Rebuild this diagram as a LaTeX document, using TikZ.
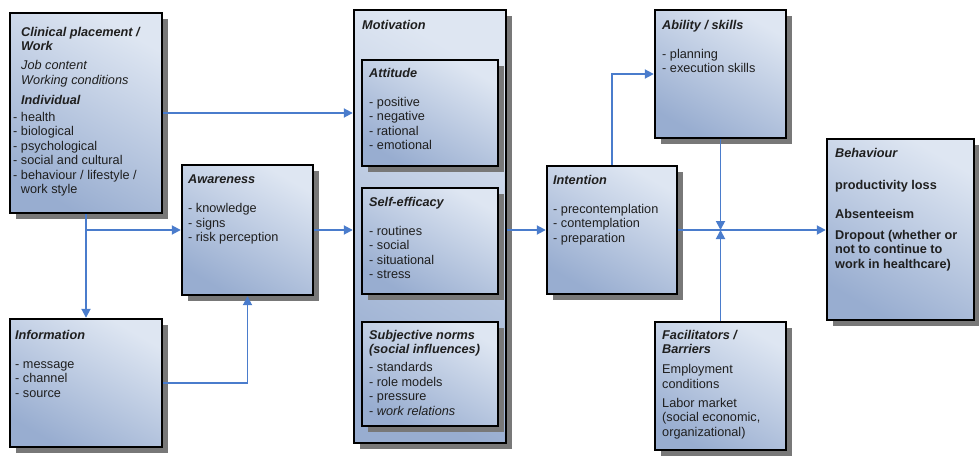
\documentclass[tikz,border=0pt]{standalone}
\usepackage{fontspec}
\setmainfont{Liberation Sans}
\usetikzlibrary{arrows.meta,shadows}
\definecolor{boxtop}{RGB}{222,230,242}
\definecolor{boxbot}{RGB}{152,173,208}
\definecolor{conncol}{RGB}{74,124,204}
\definecolor{shadowcol}{RGB}{120,120,120}
\newcommand{\hd}[1]{\textbf{\textit{#1}}}
\begin{document}
\begin{tikzpicture}[x=1pt,y=-1pt,
 box/.style={draw=black, line width=2.4pt, top color=boxtop, bottom color=boxbot, shading angle=-30, inner sep=0,
   drop shadow={shadow xshift=6pt, shadow yshift=-6pt, opacity=1, fill=shadowcol}},
 txt/.style={anchor=north west, inner sep=0, align=left, font=\fontsize{12.7}{14.5}\selectfont, text=black!88},
 conn/.style={draw=conncol, line width=1.8pt, -{Triangle[length=9pt,width=9pt]}},
 ]
\useasboundingbox (0,0) rectangle (979,457);

% boxes
\node[box, minimum width=152pt, minimum height=200pt] (clin) at (86,113) {};
\node[box, minimum width=131pt, minimum height=130pt] (aware) at (247.5,230) {};
\node[box, minimum width=152pt, minimum height=128pt] (info) at (86,383) {};
\node[box, minimum width=152pt, minimum height=433pt] (motiv) at (430,226.5) {};
\node[box, minimum width=136pt, minimum height=106pt] (att) at (430,113) {};
\node[box, minimum width=136pt, minimum height=106pt] (self) at (430,241) {};
\node[box, minimum width=136pt, minimum height=104pt] (subj) at (430,374) {};
\node[box, minimum width=130pt, minimum height=128pt] (intent) at (612,230) {};
\node[box, minimum width=131pt, minimum height=128pt] (abil) at (720.5,74) {};
\node[box, minimum width=131pt, minimum height=128pt] (facil) at (720.5,386) {};
\node[box, minimum width=147pt, minimum height=181pt] (behav) at (900.5,229.5) {};

% texts
\node[txt] (clinh) at (21,27) {\hd{Clinical placement /}\\\hd{Work}\\[4.5pt]\textit{Job content}\\\textit{Working conditions}\\[5.5pt]\hd{Individual}};
\node[txt] (clinl) at (13,112) {- health\\- biological\\- psychological\\- social and cultural\\- behaviour / lifestyle /\\\phantom{- }work style};
\node[txt] (awaret) at (188,175) {\hd{Awareness}\\[14.5pt]- knowledge\\- signs\\- risk perception};
\node[txt] (infot) at (15,330) {\hd{Information}\\[14.5pt]- message\\- channel\\- source};
\node[txt] (motivt) at (362,20) {\hd{Motivation}};
\node[txt] (attt) at (369,68) {\hd{Attitude}\\[14.5pt]- positive\\- negative\\- rational\\- emotional};
\node[txt] (selft) at (369,197) {\hd{Self-efficacy}\\[14.5pt]- routines\\- social\\- situational\\- stress};
\node[txt] (subjt) at (369,330) {\hd{Subjective norms}\\\hd{(social influences)}\\[3.5pt]- standards\\- role models\\- pressure\\- \textit{work relations}};
\node[txt] (intentt) at (553,175) {\hd{Intention}\\[14.5pt]- precontemplation\\- contemplation\\- preparation};
\node[txt] (abilt) at (662,20) {\hd{Ability / skills}\\[14.5pt]- planning\\- execution skills};
\node[txt] (facilt) at (662,330) {\hd{Facilitators /}\\\hd{Barriers}\\[5.5pt]Employment\\conditions\\[4.5pt]Labor market\\(social economic,\\organizational)};
\node[txt] (behavt) at (835,148) {\hd{Behaviour}\\[17.5pt]\textbf{productivity loss}\\[14.5pt]\textbf{Absenteeism}\\[6.5pt]\textbf{Dropout (whether or}\\\textbf{not to continue to}\\\textbf{work in healthcare)}};

% connectors
\coordinate (branch) at (clin.south |- aware.west);
\coordinate (jn) at (abil.south |- intent.east);
\draw[conn] (clin.east) -- (motiv.west |- clin.east);
\draw[conn] (clin.south) -- (info.north);
\draw[conn] (branch) -- (aware.west);
\draw[conn] (info.east) -| (aware.south);
\draw[conn] (aware.east) -- (motiv.west |- aware.east);
\draw[conn] (motiv.east |- intent.west) -- (intent.west);
\draw[conn] (intent.north) |- (abil.west);
\draw[conn] (intent.east) -- (behav.west |- intent.east);
\draw[conn] (abil.south) -- (jn);
\draw[conn] (facil.north) -- (jn);
\end{tikzpicture}
\end{document}
